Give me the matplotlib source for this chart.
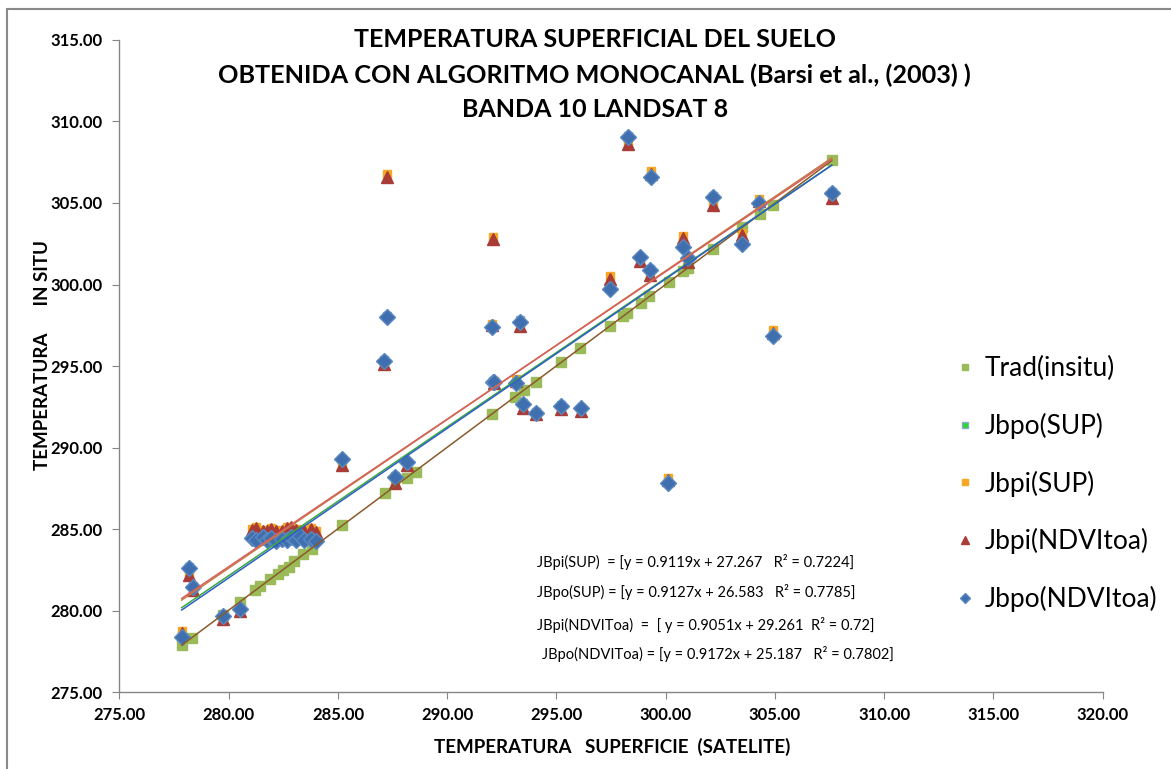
import numpy as np
import matplotlib.pyplot as plt
from matplotlib.patches import Rectangle

plt.rcParams['font.family'] = ['Lato', 'DejaVu Sans']

# in situ reference points (y = x)
trad_x = [277.85, 278.3, 279.75, 280.5, 281.2, 281.45, 281.9, 282.25, 282.5, 282.75, 283.0,
          283.4, 283.8, 285.2, 287.15, 288.15, 288.55, 292.05, 293.1, 293.5, 294.05, 295.2,
          296.1, 297.45, 298.05, 298.25, 298.85, 299.25, 300.15, 300.8, 301.0, 302.15, 303.5,
          304.3, 304.9, 307.6]
trad_y = [277.9, 278.3, 279.75, 280.55, 281.25, 281.5, 281.95, 282.25, 282.5, 282.7, 283.05,
          283.45, 283.8, 285.25, 287.2, 288.15, 288.5, 292.05, 293.1, 293.5, 294.0, 295.25,
          296.1, 297.45, 298.05, 298.25, 298.85, 299.3, 300.15, 300.8, 301.0, 302.15, 303.5,
          304.3, 304.9, 307.65]

# satellite-derived series share the same x
sat_x = [277.85, 278.2, 278.35, 279.75, 280.5,
         281.05, 281.25, 281.55, 281.75, 281.95, 282.15, 282.45, 282.65, 282.85, 283.1, 283.25,
         283.45, 283.75, 284.0,
         285.2, 287.1, 287.25, 287.62, 288.14, 292.03, 292.08, 292.14, 293.13, 293.33, 293.48,
         294.05, 295.22, 296.12,
         297.43, 298.26, 298.82, 299.28, 299.32, 300.12, 300.77, 301.0, 302.15, 303.48, 304.28,
         304.92, 307.6]
jbpo_sup = [278.45, 282.65, 281.5, 279.7, 280.15,
            284.5, 284.4, 284.55, 284.35, 284.5, 284.3, 284.45, 284.35, 284.55, 284.4, 284.6,
            284.35, 284.45, 284.3,
            289.3, 295.35, 298.05, 288.25, 289.1, 297.45, 294.1, 294.05, 293.95, 297.8, 292.7,
            292.2, 292.6, 292.45,
            299.8, 309.1, 301.7, 300.95, 306.65, 287.9, 302.35, 301.65, 305.4, 302.5, 305.05,
            296.9, 305.65]
jbpi_sup = [278.75, 282.25, 281.35, 279.6, 280.05,
            285.0, 285.1, 284.95, 284.9, 285.05, 284.95, 284.9, 285.1, 285.15, 285.0, 284.85,
            284.95, 285.05, 284.85,
            289.05, 295.2, 306.8, 287.95, 289.0, 297.6, 302.9, 294.05, 294.2, 297.55, 292.5,
            292.15, 292.45, 292.35,
            300.55, 308.7, 301.55, 300.7, 306.95, 288.1, 302.95, 301.5, 305.0, 303.15, 305.25,
            297.2, 305.4]
jbpi_ndvi = [278.6, 282.15, 281.25, 279.5, 279.95,
             284.95, 285.05, 284.9, 284.85, 285.0, 284.9, 284.85, 285.05, 285.1, 284.95, 284.8,
             284.9, 285.0, 284.8,
             288.95, 295.1, 306.6, 287.85, 288.9, 297.5, 302.77, 293.95, 294.05, 297.45, 292.4,
             292.05, 292.35, 292.25,
             300.35, 308.6, 301.45, 300.6, 306.8, 288.0, 302.83, 301.4, 304.9, 303.04, 305.15,
             297.0, 305.3]
jbpo_ndvi = [278.4, 282.6, 281.45, 279.65, 280.1,
             284.45, 284.35, 284.5, 284.3, 284.45, 284.25, 284.4, 284.3, 284.5, 284.35, 284.55,
             284.3, 284.4, 284.25,
             289.28, 295.33, 298.0, 288.21, 289.09, 297.41, 294.04, 294.04, 293.94, 297.72, 292.67,
             292.14, 292.55, 292.4,
             299.75, 309.07, 301.67, 300.89, 306.61, 287.85, 302.32, 301.6, 305.39, 302.48, 305.02,
             296.84, 305.63]

# trend lines as printed on the chart
slope_po_sup, icpt_po_sup = 0.9127, 26.583
slope_pi_sup, icpt_pi_sup = 0.9119, 27.267
slope_pi_ndvi, icpt_pi_ndvi = 0.9051, 29.261
slope_po_ndvi, icpt_po_ndvi = 0.9172, 25.187

eq_lines = ["JBpi(SUP)  = [y = 0.9119x + 27.267   R\u00b2 = 0.7224]",
            "JBpo(SUP) = [y = 0.9127x + 26.583   R\u00b2 = 0.7785]",
            "JBpi(NDVIToa)  =  [ y = 0.9051x + 29.261  R\u00b2 = 0.72]",
            "JBpo(NDVIToa) = [y = 0.9172x + 25.187   R\u00b2 = 0.7802]"]

fig = plt.figure(figsize=(11.71, 7.69), dpi=100)
ax = fig.add_axes([0.102, 0.1001, 0.8397, 0.8479])

# markers
ax.plot(trad_x, trad_y, 's', ms=7, color='#9BBB59', mec='#9BBB59', label='Trad(insitu)', zorder=3)
ax.plot(sat_x, jbpo_sup, 's', ms=6, color='#22DD22', mec='#8EA9D0', label='Jbpo(SUP)', zorder=3)
ax.plot(sat_x, jbpi_sup, 's', ms=5.5, color='#F7A823', mec='#F7A823', label='Jbpi(SUP)', zorder=3)
ax.plot(sat_x, jbpi_ndvi, '^', ms=8.5, color='#A93C37', mec='#A93C37', label='Jbpi(NDVItoa)', zorder=3)
ax.plot(sat_x, jbpo_ndvi, 'D', ms=8, color='#3F6FAE', mec='#5A88C0', label='Jbpo(NDVItoa)', zorder=3)

# trend lines
xl = np.array([min(sat_x), max(sat_x)])
kt = np.polyfit(trad_x, trad_y, 1)
ax.plot(xl, kt[0] * xl + kt[1], color='#8B5A2B', lw=1.1, zorder=4)
ax.plot(xl, slope_po_sup * xl + icpt_po_sup, color='#3BAA3B', lw=1.1, zorder=4)
ax.plot(xl, slope_pi_sup * xl + icpt_pi_sup, color='#C08048', lw=1.1, zorder=4)
ax.plot(xl, slope_pi_ndvi * xl + icpt_pi_ndvi, color='#D9605A', lw=1.1, zorder=4)
ax.plot(xl, slope_po_ndvi * xl + icpt_po_ndvi, color='#2E5FC8', lw=1.1, zorder=4)

ax.set_xlim(275, 320)
ax.set_ylim(275, 315)
ax.set_xticks(np.arange(275, 321, 5))
ax.set_yticks(np.arange(275, 316, 5))
ax.xaxis.set_major_formatter(lambda v, p: f"{v:.2f}")
ax.yaxis.set_major_formatter(lambda v, p: f"{v:.2f}")
for s in ['top', 'right']:
    ax.spines[s].set_visible(False)
for s in ['left', 'bottom']:
    ax.spines[s].set_color('#868686')
    ax.spines[s].set_linewidth(1.0)
ax.tick_params(axis='both', direction='out', length=5, color='#868686', labelsize=12)
ax.tick_params(axis='y', pad=7)
ax.tick_params(axis='x', pad=6)
for lab in ax.get_xticklabels() + ax.get_yticklabels():
    lab.set_fontweight('bold')

# titles and axis labels
fig.text(0.508, 0.948, "TEMPERATURA SUPERFICIAL DEL SUELO", ha='center', va='center',
         fontsize=18, fontweight='bold')
fig.text(0.508, 0.902, "OBTENIDA CON ALGORITMO MONOCANAL (Barsi et al., (2003) )", ha='center',
         va='center', fontsize=18.2, fontweight='bold')
fig.text(0.508, 0.857, "BANDA 10 LANDSAT 8", ha='center', va='center', fontsize=18,
         fontweight='bold')
fig.text(0.523, 0.029, "TEMPERATURA   SUPERFICIE  (SATELITE)", ha='center', va='center',
         fontsize=13.5, fontweight='bold')
fig.text(0.036, 0.538, "TEMPERATURA      IN SITU", ha='center', va='center', rotation=90,
         fontsize=13.5, fontweight='bold')

# equations
eq_y = [0.269, 0.230, 0.187, 0.150]
eq_x = [0.459, 0.459, 0.459, 0.463]
for t, xx, yy in zip(eq_lines, eq_x, eq_y):
    fig.text(xx, yy, t, ha='left', va='center', fontsize=10.5)

ax.legend(loc='upper left', bbox_to_anchor=(0.797, 0.568), bbox_transform=fig.transFigure,
          frameon=False, fontsize=19, labelspacing=1.2, handlelength=0.6,
          handletextpad=0.45, markerscale=0.7)

# chart area border
fig.patches.append(Rectangle((7 / 1171, -0.05), 1.1, 1 - 9 / 769 + 0.05, transform=fig.transFigure,
                             fill=False, edgecolor='#898989', lw=1.5))

fig.savefig('out.png', dpi=100)
